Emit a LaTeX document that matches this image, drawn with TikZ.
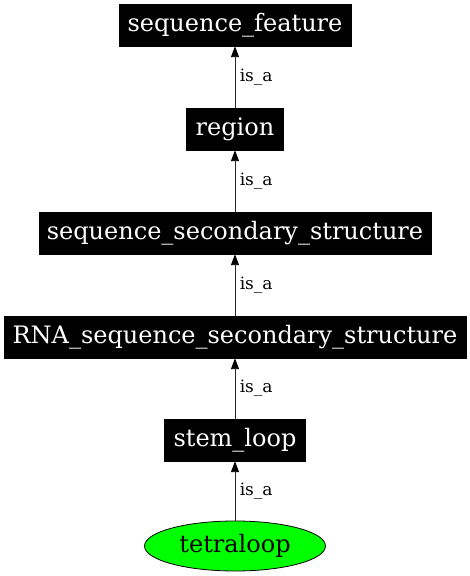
\documentclass[tikz,border=0pt]{standalone}
\usepackage{fontspec}
\setmainfont{DejaVu Serif}
\usetikzlibrary{arrows.meta,shapes.geometric}
\definecolor{termgreen}{RGB}{0,255,0}

\tikzset{
  termbox/.style={fill=black, text=white, draw=black, minimum height=42pt, inner sep=0pt, font=\fontsize{24}{27}\selectfont},
  leafterm/.style={ellipse, fill=termgreen, draw=black, line width=0.8pt, minimum width=181pt, minimum height=50pt, inner sep=0pt, font=\fontsize{24}{27}\selectfont},
  isa/.style={draw=black!85, line width=0.9pt, -{Triangle[length=11pt,width=8pt,color=black]}},
  isalabel/.style={midway, right, xshift=1pt, font=\fontsize{17}{19}\selectfont}
}

\begin{document}
\begin{tikzpicture}[x=1pt,y=1pt]
\useasboundingbox (0,0) rectangle (470,576);
% terms, top to bottom
\node[termbox, minimum width=232pt] (seqfeature) at (235,551) {sequence\_feature};
\node[termbox, minimum width=97pt] (region) at (235,447) {region};
\node[termbox, minimum width=392pt] (secstruct) at (235,343) {sequence\_secondary\_structure};
\node[termbox, minimum width=462pt] (rnasecstruct) at (235,239) {RNA\_sequence\_secondary\_structure};
\node[termbox, minimum width=141pt] (stemloop) at (235,136) {stem\_loop};
\node[leafterm] (tetraloop) at (235,30) {tetraloop};

% is_a links
\draw[isa] (region.north) -- (seqfeature.south) node[isalabel] {is\_a};
\draw[isa] (secstruct.north) -- (region.south) node[isalabel] {is\_a};
\draw[isa] (rnasecstruct.north) -- (secstruct.south) node[isalabel] {is\_a};
\draw[isa] (stemloop.north) -- (rnasecstruct.south) node[isalabel] {is\_a};
\draw[isa] (tetraloop.north) -- (stemloop.south) node[isalabel] {is\_a};
\end{tikzpicture}
\end{document}
